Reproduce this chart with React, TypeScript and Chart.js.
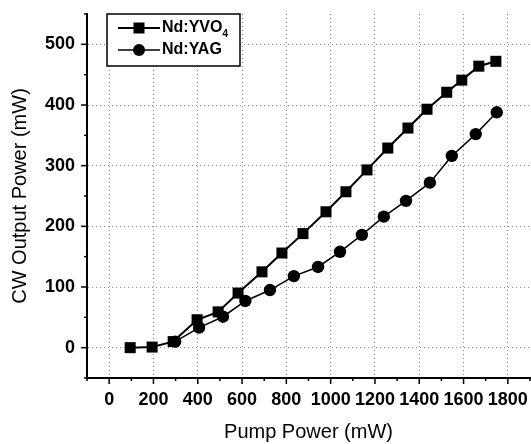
import React, { useEffect, useRef } from "react";
import { Chart, registerables } from "chart.js";

Chart.register(...registerables);

const yvoX = [95, 194, 289, 397, 492, 582, 690, 780, 875, 979, 1069, 1164, 1258, 1349, 1435, 1524, 1592, 1669, 1746];
const yvoY = [0, 1, 10, 46, 59, 90, 125, 156, 188, 224, 257, 293, 329, 362, 393, 421, 441, 464, 472];
const yagX = [298, 406, 514, 615, 726, 834, 943, 1042, 1141, 1240, 1340, 1448, 1547, 1655, 1750];
const yagY = [10, 33, 51, 77, 95, 118, 133, 158, 186, 216, 242, 272, 316, 352, 388];

const seriesNames = ["Nd:YVO", "Nd:YAG"];
const xTitle = "Pump Power (mW)";
const yTitle = "CW Output Power (mW)";
const FONT = "'Liberation Sans', Arial, sans-serif";

const AREA_RIGHT = 530;

const fixArea = {
  id: "fixArea",
  afterLayout(chart: any) {
    const xs = chart.scales.x;
    const ca = chart.chartArea;
    ca.right = AREA_RIGHT;
    ca.width = ca.right - ca.left;
    xs.right = AREA_RIGHT;
    xs.width = xs.right - xs.left;
    xs.configure();
  },
};

const tickMarks = {
  id: "tickMarks",
  afterDraw(chart: any) {
    const ctx = chart.ctx;
    const xs = chart.scales.x;
    const ys = chart.scales.y;
    ctx.save();
    ctx.strokeStyle = "#000";
    ctx.lineWidth = 1.5;
    xs.ticks.forEach((t: any) => {
      const px = xs.getPixelForValue(t.value);
      const major = Math.round(t.value) % 200 === 0;
      ctx.beginPath();
      ctx.moveTo(px, xs.top);
      ctx.lineTo(px, xs.top + (major ? 6 : 3));
      ctx.stroke();
    });
    ys.ticks.forEach((t: any) => {
      const py = ys.getPixelForValue(t.value);
      const major = Math.round(t.value) % 100 === 0;
      ctx.beginPath();
      ctx.moveTo(ys.right, py);
      ctx.lineTo(ys.right - (major ? 6 : 3), py);
      ctx.stroke();
    });
    ctx.restore();
  },
};

const boxLegend = {
  id: "boxLegend",
  afterDatasetsDraw(chart: any) {
    const ctx = chart.ctx;
    const left = 107, top = 14, w = 133, h = 52;
    ctx.save();
    ctx.fillStyle = "#fff";
    ctx.fillRect(left, top, w, h);
    ctx.strokeStyle = "#000";
    ctx.lineWidth = 1.5;
    ctx.strokeRect(left, top, w, h);
    const rows = [
      { y: 28, style: "rect", lw: 2 },
      { y: 50, style: "circle", lw: 1.5 },
    ];
    rows.forEach((row, i) => {
      ctx.beginPath();
      ctx.lineWidth = row.lw;
      ctx.moveTo(118, row.y);
      ctx.lineTo(160, row.y);
      ctx.stroke();
      ctx.fillStyle = "#000";
      if (row.style === "rect") {
        ctx.fillRect(139 - 5.5, row.y - 5.5, 11, 11);
      } else {
        ctx.beginPath();
        ctx.arc(139, row.y, 6, 0, Math.PI * 2);
        ctx.fill();
      }
      ctx.font = "bold 16px " + FONT;
      ctx.textBaseline = "middle";
      ctx.textAlign = "left";
      ctx.fillText(seriesNames[i], 162, row.y);
      if (i === 0) {
        const tw = ctx.measureText(seriesNames[i]).width;
        ctx.font = "bold 10px " + FONT;
        ctx.fillText("4", 162 + tw, row.y + 6);
      }
    });
    ctx.restore();
  },
};

export default function App() {
  const ref = useRef<HTMLCanvasElement | null>(null);
  useEffect(() => {
    if (!ref.current) return;
    const chart = new Chart(ref.current, {
      type: "line",
      data: {
        datasets: [
          {
            label: seriesNames[0],
            data: yvoX.map((x, i) => ({ x, y: yvoY[i] })),
            borderColor: "#000",
            backgroundColor: "#000",
            borderWidth: 2,
            pointStyle: "rect",
            pointRadius: 7.8,
            pointBorderWidth: 0,
            tension: 0,
          },
          {
            label: seriesNames[1],
            data: yagX.map((x, i) => ({ x, y: yagY[i] })),
            borderColor: "#000",
            backgroundColor: "#000",
            borderWidth: 1.5,
            pointStyle: "circle",
            pointRadius: 6.2,
            pointBorderWidth: 0,
            tension: 0,
          },
        ],
      },
      options: {
        responsive: false,
        animation: false,
        layout: { padding: { top: 14, right: 1, left: 0, bottom: 0 } },
        plugins: { legend: { display: false }, tooltip: { enabled: false } },
        scales: {
          x: {
            type: "linear",
            min: -100,
            max: 1900,
            afterFit: (s: any) => { s.height = 66; s.paddingLeft = 0; s.paddingRight = 0; },
            ticks: {
              stepSize: 100,
              autoSkip: false,
              maxRotation: 0,
              padding: 11,
              color: "#000",
              font: { family: FONT, size: 18, weight: "bold" },
              callback: (v: any) => (Math.round(v) % 200 === 0 ? String(v) : ""),
            },
            grid: {
              drawTicks: false,
              lineWidth: 1,
              color: (c: any) => (c.tick && Math.round(c.tick.value) % 200 === 0 ? "#8a8a8a" : "transparent"),
            },
            border: { color: "#000", width: 2, dash: [1, 3] },
            title: {
              display: true,
              text: xTitle,
              color: "#000",
              font: { family: FONT, size: 20 },
              padding: { top: 0, bottom: 0 },
            },
          },
          y: {
            type: "linear",
            min: -50,
            max: 550,
            afterFit: (s: any) => { s.width = 87; s.paddingTop = 0; s.paddingBottom = 0; },
            ticks: {
              stepSize: 50,
              autoSkip: false,
              padding: 12,
              color: "#000",
              font: { family: FONT, size: 18, weight: "bold" },
              callback: (v: any) => (Math.round(v) % 100 === 0 ? String(v) : ""),
            },
            grid: {
              drawTicks: false,
              lineWidth: 1,
              color: (c: any) => (c.tick && Math.round(c.tick.value) % 100 === 0 ? "#8a8a8a" : "transparent"),
            },
            border: { color: "#000", width: 2, dash: [1, 3] },
            title: {
              display: true,
              text: yTitle,
              color: "#000",
              font: { family: FONT, size: 20 },
              padding: { top: 8, bottom: 0 },
            },
          },
        },
      },
      plugins: [fixArea, tickMarks, boxLegend],
    } as any);
    return () => chart.destroy();
  }, []);
  return (
    <div style={{ position: "absolute", left: 0, top: 0, width: 531, height: 444, background: "#fff" }}>
      <canvas ref={ref} width={531} height={444} style={{ display: "block" }} />
    </div>
  );
}
